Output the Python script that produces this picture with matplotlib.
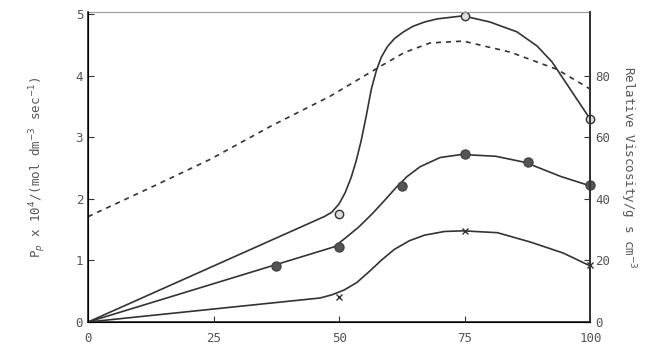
import matplotlib.pyplot as plt

plt.rcParams['font.family'] = ['DejaVu Sans Mono']

ink = '#333333'
txt = '#555555'

# marker points
open_x = [50, 75, 100]
open_y = [1.76, 4.97, 3.29]
filled_x = [37.5, 50, 62.5, 75, 87.5, 100]
filled_y = [0.91, 1.22, 2.2, 2.72, 2.59, 2.22]
cross_x = [50, 75, 100]
cross_y = [0.41, 1.48, 0.92]

# curves
open_cx = [0, 44.8, 47.0, 48.5, 50.0, 51.2, 52.4, 53.4, 54.4, 55.4, 56.4, 57.4, 58.4,
           59.6, 61.0, 62.8, 64.7, 67.0, 69.5, 74.7, 80.0, 85.4, 89.4, 92.4, 96.0, 100]
open_cy = [0, 1.63, 1.71, 1.78, 1.92, 2.10, 2.35, 2.62, 2.95, 3.35, 3.78, 4.08, 4.30,
           4.47, 4.60, 4.71, 4.80, 4.87, 4.92, 4.97, 4.87, 4.71, 4.48, 4.22, 3.78, 3.29]
filled_cx = [0, 49.0, 51.5, 54.0, 56.5, 59.0, 61.3, 63.5, 66.1, 70.1, 74.4,
             81.2, 87.1, 94.2, 100]
filled_cy = [0, 1.22, 1.38, 1.55, 1.75, 1.97, 2.18, 2.36, 2.52, 2.67, 2.72,
             2.69, 2.59, 2.36, 2.21]
cross_cx = [0, 46.2, 48.5, 51.0, 53.5, 56.0, 58.5, 61.0, 64.0, 67.0, 71.0, 74.7,
            81.5, 88.0, 94.6, 100]
cross_cy = [0, 0.39, 0.44, 0.52, 0.64, 0.82, 1.01, 1.18, 1.32, 1.41, 1.47, 1.48,
            1.45, 1.30, 1.12, 0.91]

# relative viscosity (right axis, dashed)
visc_x = [0, 12.4, 24.3, 36.3, 48.2, 58.2, 63.0, 68.1, 74.7, 84.1, 93.4, 100]
visc_y = [34.2, 43.6, 52.8, 63.5, 73.3, 83.0, 87.5, 90.6, 91.2, 87.6, 82.0, 75.6]

fig = plt.figure(figsize=(6.67, 3.57), dpi=100)
ax = fig.add_axes([0.132, 0.098, 0.753, 0.868])

ax.plot(open_cx, open_cy, color=ink, lw=1.2)
ax.plot(filled_cx, filled_cy, color=ink, lw=1.2)
ax.plot(cross_cx, cross_cy, color=ink, lw=1.2)
ax.plot(open_x, open_y, 'o', ms=6, mfc='#dddddd', mec=ink, mew=1.0, clip_on=False)
ax.plot(filled_x, filled_y, 'o', ms=6.5, mfc='#555555', mec='#444444', clip_on=False)
ax.plot(cross_x, cross_y, 'x', ms=5, color=ink, mew=1.0, clip_on=False)

ax.set_xlim(0, 100)
ax.set_ylim(0, 5.03)
ax.set_xticks([0, 25, 50, 75, 100])
ax.set_yticks([0, 1, 2, 3, 4, 5])
ax.tick_params(direction='in', length=4, colors=ink, labelcolor=txt, labelsize=9)
ax.tick_params(axis='x', pad=7)
ax.set_ylabel('P$_p$ x 10$^4$/(mol dm$^{-3}$ sec$^{-1}$)', color=txt, fontsize=9, labelpad=20)
for s in ['left', 'bottom', 'right']:
    ax.spines[s].set_color(ink)
    ax.spines[s].set_linewidth(1.3)
ax.spines['top'].set_color('#999999')
ax.spines['top'].set_linewidth(0.8)

ax2 = ax.twinx()
ax2.plot(visc_x, visc_y, color=ink, lw=1.2, ls=(0, (3, 3)))
ax2.set_ylim(0, 100.6)
ax2.set_yticks([0, 20, 40, 60, 80])
ax2.tick_params(direction='in', length=4, colors=ink, labelcolor=txt, labelsize=9)
ax2.set_ylabel('Relative Viscosity/g s cm$^{-3}$', color=txt, fontsize=9,
               rotation=-90, labelpad=20)
ax2.spines['right'].set_color(ink)
ax2.spines['right'].set_linewidth(1.3)
ax2.spines['top'].set_visible(False)

fig.savefig('out.png', dpi=100)
